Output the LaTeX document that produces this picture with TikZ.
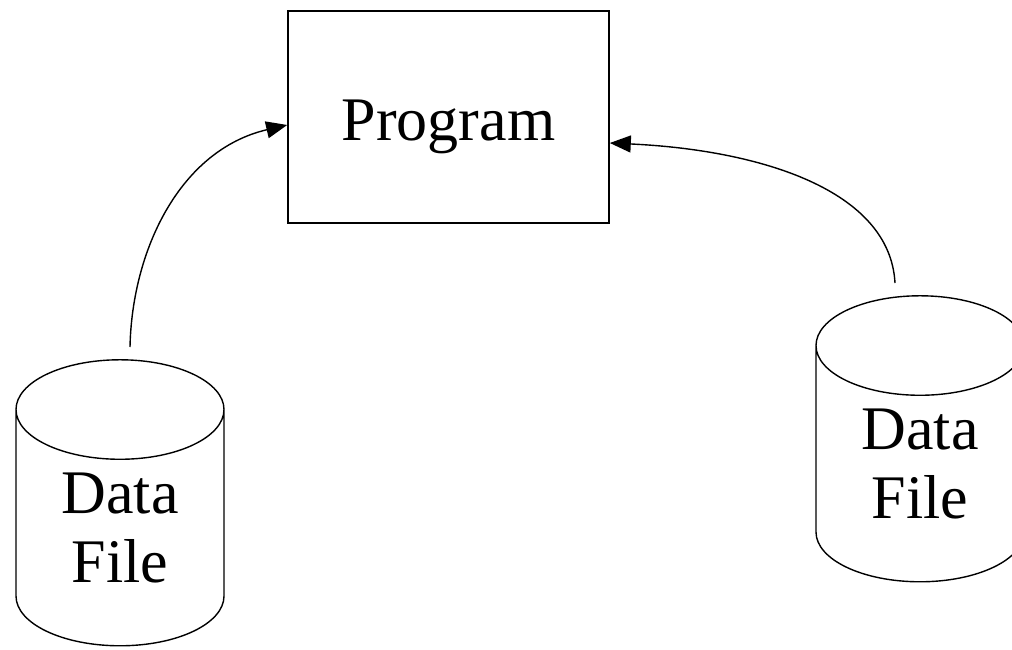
\documentclass[tikz,border=0pt]{standalone}
\usepackage{fontspec}
\setmainfont{Liberation Serif}
\usetikzlibrary{shapes.geometric,arrows.meta}
\tikzset{
  progbox/.style={draw, line width=1.6pt, minimum width=321pt, minimum height=212pt,
    inner sep=0pt, text height=61pt, text depth=14pt},
  datafile/.style={cylinder, draw, line width=1.4pt, shape border rotate=90, aspect=0.85,
    minimum width=208pt, minimum height=286pt, inner sep=0pt, align=center},
  big/.style={font=\fontsize{62}{69}\selectfont},
  feed/.style={line width=1.4pt, -{Triangle[length=21pt,width=17pt]}}
}
\begin{document}
\begin{tikzpicture}[x=1pt,y=-1pt]
\useasboundingbox (0,0) rectangle (1012,650);
\node[progbox,big](prog) at (448.5,117){Program};
\node[datafile,big](fileA) at (120,528){Data\\File};
\node[datafile,big](fileB) at (920,464){Data\\File};
\coordinate(a0) at (130,347);
\coordinate(b0) at (895,283);
\draw[feed](a0) .. controls (132,250) and (180,150) .. ([yshift=-8pt]prog.west);
\draw[feed](b0) .. controls (890,190) and (760,150) .. ([yshift=-26pt]prog.east);
\end{tikzpicture}
\end{document}
